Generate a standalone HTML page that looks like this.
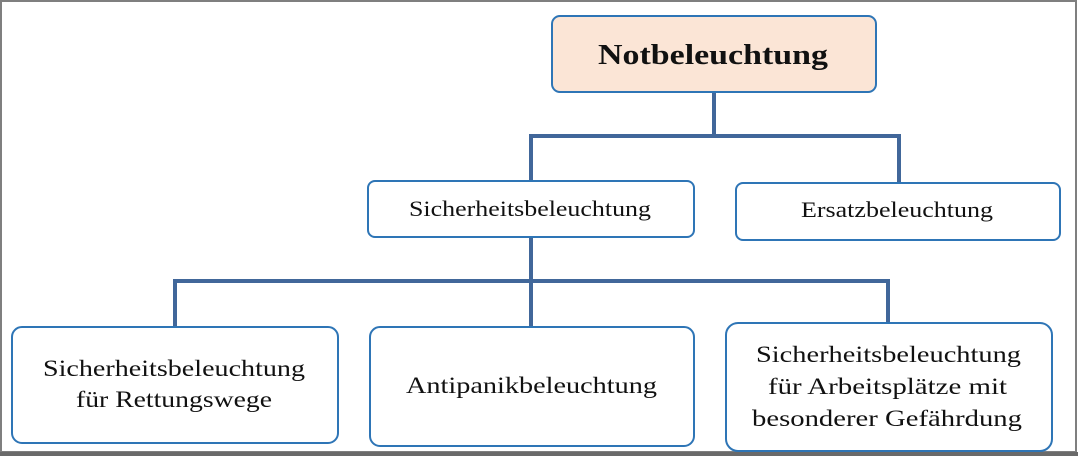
<!DOCTYPE html>
<html><head><meta charset="utf-8"><style>
html,body{margin:0;padding:0;background:#fff;}
svg{display:block}
text{font-family:"Liberation Serif",serif;fill:#111;}
</style></head><body>
<svg width="1078" height="456" viewBox="0 0 1078 456" xmlns="http://www.w3.org/2000/svg">
<rect x="0" y="0" width="1078" height="456" fill="#fff"/>
<rect x="1" y="1" width="1075" height="451" fill="none" stroke="#7f7f7f" stroke-width="2"/>
<rect x="0" y="452" width="1078" height="4" fill="#6a6a6a"/>
<g stroke="#41679a" stroke-width="4" fill="none" stroke-linecap="square">
<path d="M714 92 V136 M531 136 H899 M531 136 V180 M899 136 V182"/>
<path d="M531 237 V326 M175 281 H888 M175 281 V326 M888 281 V322"/>
</g>
<g stroke="#2e75b6" stroke-width="2">
<rect x="552" y="16" width="324" height="76" rx="8" fill="#fbe5d6"/>
<rect x="368" y="181" width="326" height="56" rx="7" fill="#fff"/>
<rect x="736" y="183" width="324" height="57" rx="7" fill="#fff"/>
<rect x="12" y="327" width="326" height="116" rx="10" fill="#fff"/>
<rect x="370" y="327" width="324" height="119" rx="10" fill="#fff"/>
<rect x="726" y="323" width="326" height="128" rx="12" fill="#fff"/>
</g>
<text x="598" y="64" font-size="29" font-weight="bold" textLength="230" lengthAdjust="spacingAndGlyphs">Notbeleuchtung</text>
<text x="409" y="216" font-size="22" textLength="242" lengthAdjust="spacingAndGlyphs">Sicherheitsbeleuchtung</text>
<text x="801" y="217" font-size="22" textLength="192" lengthAdjust="spacingAndGlyphs">Ersatzbeleuchtung</text>
<text x="43" y="376" font-size="23" textLength="262" lengthAdjust="spacingAndGlyphs">Sicherheitsbeleuchtung</text>
<text x="76" y="407" font-size="23" textLength="196" lengthAdjust="spacingAndGlyphs">für Rettungswege</text>
<text x="406" y="393" font-size="23" textLength="251" lengthAdjust="spacingAndGlyphs">Antipanikbeleuchtung</text>
<text x="756" y="362" font-size="23" textLength="265" lengthAdjust="spacingAndGlyphs">Sicherheitsbeleuchtung</text>
<text x="768" y="394" font-size="23" textLength="239" lengthAdjust="spacingAndGlyphs">für Arbeitsplätze mit</text>
<text x="752" y="426" font-size="23" textLength="270" lengthAdjust="spacingAndGlyphs">besonderer Gefährdung</text>
</svg>
</body></html>
